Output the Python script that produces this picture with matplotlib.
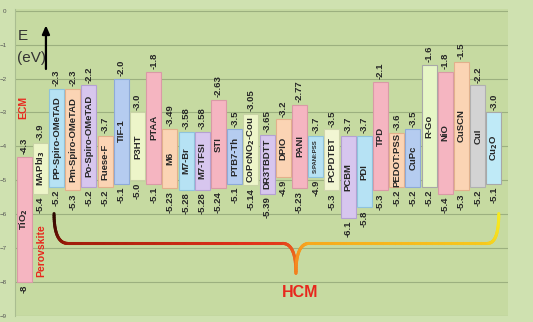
import matplotlib.pyplot as plt
import numpy as np
from matplotlib.collections import LineCollection
from matplotlib.colors import LinearSegmentedColormap

plt.rcParams['font.family'] = ['Liberation Sans', 'DejaVu Sans']

names = ["TiO$_\\mathbf{2}$", "MAPbI$_\\mathbf{3}$", "PP-Spiro-OMeTAD", "Pm-Spiro-OMeTAD",
         "Po-Spiro-OMeTAD", "Fuese-F", "TIF-1", "P3HT", "PTAA", "M6", "M7-Br", "M7-TFSI",
         "STI", "PTB7-Th", "CoPcNO$_\\mathbf{2}$-Cou", "DR3TBDTT", "DPIO", "PANI", "S:PANI:PSS",
         "PCPDTBT", "PCBM", "PDI", "TPD", "PEDOT:PSS", "CuPc", "R-Go", "NiO", "CuSCN", "CuI",
         "Cu$_\\mathbf{2}$O"]
lumo = [-4.3, -3.9, -2.3, -2.3, -2.2, -3.7, -2.0, -3.0, -1.8, -3.49, -3.58, -3.58,
        -2.63, -3.5, -3.05, -3.65, -3.2, -2.77, -3.7, -3.5, -3.7, -3.7, -2.1, -3.6,
        -3.5, -1.6, -1.8, -1.5, -2.2, -3.0]
homo = [-8, -5.4, -5.2, -5.3, -5.2, -5.2, -5.1, -5.0, -5.1, -5.23, -5.28, -5.28,
        -5.24, -5.1, -5.14, -5.39, -4.9, -5.23, -4.9, -5.3, -6.1, -5.8, -5.3, -5.2,
        -5.2, -5.2, -5.4, -5.3, -5.2, -5.1]

pink, ygreen, lblue, peach = "#f5b5c1", "#edf5c9", "#b6e2f4", "#fbd4b4"
lav, blue, lyel, grey = "#d7c6ee", "#b5ccf0", "#f2f6d3", "#d3d3d3"
colors = [pink, ygreen, lblue, peach, lav, peach, blue, ygreen, pink, peach, lblue, lav,
          pink, blue, ygreen, lav, peach, pink, lblue, lyel, lav, lblue, pink, peach,
          blue, "#e6f6c6", pink, peach, grey, "#bfeaf7"]
edges = {pink: "#d99aa6", ygreen: "#c9d3a6", lblue: "#8fc3dc", peach: "#e2b08c",
         lav: "#b4a1d2", blue: "#8eaad8", lyel: "#cfd5ae", grey: "#b0b0b0"}

fig = plt.figure(figsize=(5.33, 3.22), dpi=100, facecolor="#cfe1b0")
ax = fig.add_axes([15 / 533, 6 / 322, 493 / 533, 307 / 322])
ax.set_facecolor("#c6daa1")

x = np.arange(len(names))
bottoms = np.array(homo, dtype=float)
tops = np.array(lumo)
ec = [edges.get(c, "#a8a8a8") for c in colors]
ax.bar(x, tops - bottoms, bottom=bottoms, width=0.92, color=colors,
       edgecolor=ec, linewidth=0.8, zorder=3)

txt = "#262626"
for i in range(len(names)):
    ax.text(x[i], lumo[i] + 0.08, str(lumo[i]), rotation=90, ha="center", va="bottom",
            fontsize=6.8, fontweight="bold", color=txt, zorder=4)
    ax.text(x[i], homo[i] - 0.08, str(homo[i]), rotation=90, ha="center", va="top",
            fontsize=6.8, fontweight="bold", color=txt, zorder=4)
    fs = 4.3 if names[i] == "S:PANI:PSS" else 6.8
    ax.text(x[i], (lumo[i] + homo[i]) / 2, names[i], rotation=90, ha="center",
            va="center", fontsize=fs, fontweight="bold", color=txt, zorder=4)

ax.set_xlim(-0.56, 29.87)
ax.set_ylim(-9, 0.05)
ax.set_yticks(np.arange(-9, 1))
ax.set_xticks([])
ax.tick_params(axis="y", length=0, labelsize=4.5, labelcolor="#555555", pad=6)
ax.grid(axis="y", color="#9cb07f", linewidth=0.8, zorder=0)
for s in ["top", "right", "bottom"]:
    ax.spines[s].set_visible(False)
ax.spines["left"].set_color("#aabd90")

# axis label and arrow
ax.text(-0.4, -0.76, "E", fontsize=11, color="#333333", va="center", ha="left")
ax.text(-0.46, -1.38, "(eV)", fontsize=11, color="#333333", va="center", ha="left")
ax.annotate("", xy=(1.35, -0.35), xytext=(1.35, -1.8),
            arrowprops=dict(arrowstyle="-|>,head_length=0.5,head_width=0.22",
                            color="black", lw=1.6))

red = "#e8271d"
ax.text(-0.07, -2.84, "ECM", rotation=90, ha="center", va="center", fontsize=7.5,
        fontweight="bold", color=red)
ax.text(1.04, -7.07, "Perovskite", rotation=90, ha="center", va="center",
        fontsize=7.5, fontweight="bold", color=red)
ax.text(17.03, -8.3, "HCM", ha="center", va="center", fontsize=11.5,
        fontweight="bold", color=red)


# curly bracket
def bez(p0, p1, p2, n=30):
    t = np.linspace(0, 1, n)[:, None]
    return (1 - t) ** 2 * np.array(p0) + 2 * (1 - t) * t * np.array(p1) + t ** 2 * np.array(p2)


yb, yt, yd = -6.86, -5.98, -7.74
pts = np.vstack([
    bez((1.85, yt), (1.85, yb), (2.7, yb)),
    bez((2.7, yb), (9.3, yb), (15.95, yb)),
    bez((15.95, yb), (16.78, yb), (16.78, yd)),
    bez((16.78, yd), (16.78, yb), (17.6, yb)),
    bez((17.6, yb), (23.1, yb), (28.6, yb)),
    bez((28.6, yb), (29.3, yb), (29.3, yt)),
])
segs = np.stack([pts[:-1], pts[1:]], axis=1)
cmap = LinearSegmentedColormap.from_list(
    "br", [(0, "#2a0800"), (0.12, "#8a1505"), (0.3, "#e0301a"),
           (0.55, "#f7901e"), (0.8, "#f6c21d"), (1, "#f6ea20")])
lc = LineCollection(segs, cmap=cmap, linewidths=2.2, capstyle="round", zorder=2)
lc.set_array(np.linspace(0, 1, len(segs)))
ax.add_collection(lc)

fig.savefig("out.png", dpi=100, facecolor=fig.get_facecolor())
